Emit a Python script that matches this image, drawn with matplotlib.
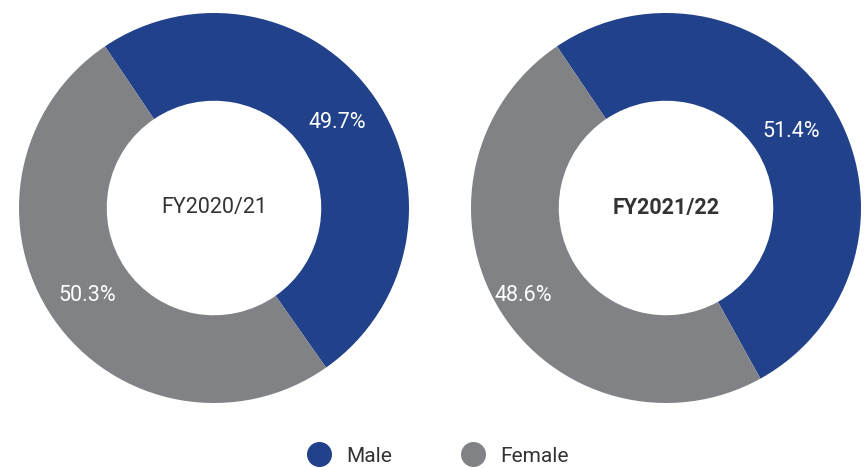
import matplotlib
matplotlib.use("Agg")
import numpy as np
import matplotlib.pyplot as plt
from matplotlib.lines import Line2D

plt.rcParams['font.family'] = ['Roboto', 'DejaVu Sans']

years = ['FY2020/21', 'FY2021/22']
male = [49.7, 51.4]
female = [50.3, 48.6]
labels = ['Male', 'Female']
colors = ['#21418b', '#808285']
# label distance from centre (fraction of radius), per chart / per slice
label_r = [[0.77, 0.79], [0.75, 0.86]]

W, H = 867, 468
fig = plt.figure(figsize=(W / 100, H / 100), dpi=100)

centers = [(214, 208), (666, 208)]
R = 195

for i, (cx, cy) in enumerate(centers):
    ax = fig.add_axes([(cx - R) / W, (H - cy - R) / H, 2 * R / W, 2 * R / H])
    vals = [male[i], female[i]]
    wedges, texts, autotexts = ax.pie(
        vals, colors=colors, startangle=124, counterclock=False,
        radius=1, wedgeprops=dict(width=0.45, linewidth=0),
        autopct='%.1f%%', pctdistance=0.78,
        textprops=dict(color='white', fontsize=15.5))
    for w, t, r in zip(wedges, autotexts, label_r[i]):
        ang = np.deg2rad((w.theta1 + w.theta2) / 2)
        t.set_position((r * np.cos(ang), r * np.sin(ang)))
    ax.set_xlim(-1, 1)
    ax.set_ylim(-1, 1)
    ax.set_aspect('equal')
    ax.axis('off')
    ax.text(0, 0, years[i], ha='center', va='center', fontsize=15.5,
            color='#333333', fontweight='bold' if i == 1 else 'normal')

handles = [Line2D([], [], marker='o', linestyle='', markersize=17,
                  markerfacecolor=c, markeredgecolor=c) for c in colors]
fig.legend(handles, labels, loc='center', bbox_to_anchor=(0.5, 1 - 456 / H),
           ncol=2, frameon=False, fontsize=15, handletextpad=0.3,
           columnspacing=2.9, labelcolor='#333333')

fig.savefig('out.png', dpi=100)
